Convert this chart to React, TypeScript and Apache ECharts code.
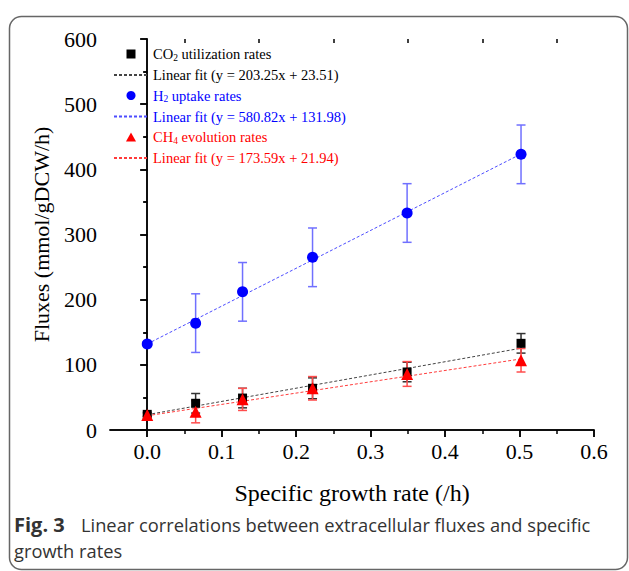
import React, { useEffect, useRef } from "react";
import * as echarts from "echarts";

const growthRates = [0, 0.065, 0.128, 0.222, 0.349, 0.502];
const co2Rates = [24, 41, 49, 64, 89, 133];
const co2Err = [3, 15, 15, 16, 15, 15];
const h2Rates = [132, 164, 212, 265, 333, 423];
const h2Err = [3, 45, 45, 45, 45, 45];
const ch4Rates = [23, 28, 47, 64, 86, 107];
const ch4Err = [2, 17, 17, 18, 19, 18];

const fitX = [0, 0.5];
const co2Fit = [23.5, 125.1];
const h2Fit = [132.0, 422.4];
const ch4Fit = [21.9, 108.7];

const xMajorTicks = [0, 0.1, 0.2, 0.3, 0.4, 0.5, 0.6];
const xMinorTicks = [0.05, 0.15, 0.25, 0.35, 0.45, 0.55];

const names = {
  co2: "CO2 utilization rates",
  co2Fit: "Linear fit (y = 203.25x + 23.51)",
  h2: "H2 uptake rates",
  h2Fit: "Linear fit (y = 580.82x + 131.98)",
  ch4: "CH4 evolution rates",
  ch4Fit: "Linear fit (y = 173.59x + 21.94)",
};

const SERIF = "Liberation Serif";
const SANS = "Open Sans";

const SQUARE_ICON = "path://M0,0H10V10H0Z";
const TRIANGLE_ICON = "path://M5,0L10,9L0,9Z";

function pts(xs: number[], ys: number[]) {
  return xs.map((x, i) => [x, ys[i]]);
}
function errPts(xs: number[], ys: number[], es: number[]) {
  return xs.map((x, i) => [x, ys[i], es[i]]);
}

function errorSeries(data: number[][], color: string) {
  return {
    type: "custom",
    xAxisIndex: 0,
    yAxisIndex: 0,
    z: 3,
    silent: true,
    data,
    renderItem: (params: any, api: any) => {
      const x = api.value(0);
      const y = api.value(1);
      const e = api.value(2);
      const top = api.coord([x, y + e]);
      const bot = api.coord([x, y - e]);
      const hw = 4.5;
      const style = { stroke: color, lineWidth: 1.5 };
      return {
        type: "group",
        children: [
          { type: "line", shape: { x1: top[0], y1: top[1], x2: bot[0], y2: bot[1] }, style },
          { type: "line", shape: { x1: top[0] - hw, y1: top[1], x2: top[0] + hw, y2: top[1] }, style },
          { type: "line", shape: { x1: bot[0] - hw, y1: bot[1], x2: bot[0] + hw, y2: bot[1] }, style },
        ],
      };
    },
  };
}

export default function App() {
  const ref = useRef<HTMLDivElement>(null);
  useEffect(() => {
    if (!ref.current) return;
    const chart = echarts.init(ref.current, null, { renderer: "svg" });
    const axisLine = { show: true, lineStyle: { color: "#000", width: 1.5 } };
    const xBase = { type: "value", min: -0.05, max: 0.6, gridIndex: 0, splitLine: { show: false } };
    const hiddenSymbol = { color: "rgba(0,0,0,0)", borderWidth: 0, opacity: 0 };
    const option: any = {
      animation: false,
      backgroundColor: "#fff",
      grid: { left: 110, right: 35, top: 39, bottom: 141 },
      legend: {
        orient: "vertical",
        left: 113,
        top: 46,
        padding: 0,
        itemWidth: 34,
        itemHeight: 9,
        itemGap: 4.5,
        textStyle: {
          fontFamily: SERIF,
          fontSize: 14.5,
          lineHeight: 16,
          rich: {
            sub: { fontSize: 9.5, padding: [7, 0, 0, 0], fontFamily: SERIF },
          },
        },
        formatter: (n: string) => n.replace(/^(CO|H|CH)(\d)/, "$1{sub|$2}"),
        data: [
          { name: names.co2, icon: SQUARE_ICON, itemStyle: { color: "#000" }, textStyle: { color: "#000" } },
          { name: names.co2Fit, itemStyle: hiddenSymbol, textStyle: { color: "#000" } },
          { name: names.h2, icon: "circle", textStyle: { color: "#0000ff" } },
          { name: names.h2Fit, itemStyle: hiddenSymbol, textStyle: { color: "#0000ff" } },
          { name: names.ch4, icon: TRIANGLE_ICON, itemStyle: { color: "#ff0000" }, textStyle: { color: "#ff0000" } },
          { name: names.ch4Fit, itemStyle: hiddenSymbol, textStyle: { color: "#ff0000" } },
        ],
      },
      xAxis: [
        {
          ...xBase,
          position: "bottom",
          name: "Specific growth rate (/h)",
          nameLocation: "middle",
          nameGap: 51,
          nameTextStyle: { fontFamily: SERIF, fontSize: 24, color: "#000" },
          axisLine,
          axisTick: { show: true, inside: false, length: 7, customValues: xMajorTicks, lineStyle: { color: "#000", width: 1.5 } },
          axisLabel: {
            show: true,
            customValues: xMajorTicks,
            margin: 10,
            fontFamily: SERIF,
            fontSize: 22,
            color: "#000",
            formatter: (v: number) => v.toFixed(1),
          },
        },
        {
          ...xBase,
          position: "top",
          axisLine,
          axisTick: { show: true, inside: true, length: 7, customValues: xMajorTicks, lineStyle: { color: "#000", width: 1.5 } },
          axisLabel: { show: false },
        },
        {
          ...xBase,
          position: "bottom",
          axisLine: { show: false },
          axisTick: { show: true, inside: false, length: 4, customValues: xMinorTicks, lineStyle: { color: "#000", width: 1.5 } },
          axisLabel: { show: false },
        },
        {
          ...xBase,
          position: "top",
          axisLine: { show: false },
          axisTick: { show: true, inside: true, length: 4, customValues: xMinorTicks, lineStyle: { color: "#000", width: 1.5 } },
          axisLabel: { show: false },
        },
      ],
      yAxis: [
        {
          type: "value",
          min: 0,
          max: 600,
          interval: 100,
          position: "left",
          name: "Fluxes (mmol/gDCW/h)",
          nameLocation: "middle",
          nameGap: 58,
          nameTextStyle: { fontFamily: SERIF, fontSize: 22, color: "#000" },
          axisLine,
          splitLine: { show: false },
          axisTick: { show: true, inside: false, length: 7, lineStyle: { color: "#000", width: 1.5 } },
          minorTick: { show: true, splitNumber: 2, length: 4, lineStyle: { color: "#000", width: 1.5 } },
          axisLabel: { margin: 13, fontFamily: SERIF, fontSize: 22, color: "#000" },
        },
        {
          type: "value",
          min: 0,
          max: 600,
          interval: 100,
          position: "right",
          axisLine,
          splitLine: { show: false },
          axisTick: { show: true, inside: true, length: 7, lineStyle: { color: "#000", width: 1.5 } },
          minorTick: { show: true, splitNumber: 2, length: 4, lineStyle: { color: "#000", width: 1.5 } },
          axisLabel: { show: false },
        },
      ],
      series: [
        {
          name: names.co2Fit,
          type: "line",
          data: pts(fitX, co2Fit),
          symbol: "none",
          z: 2,
          itemStyle: { color: "#444" },
          lineStyle: { color: "#444", width: 1, type: [3, 2] },
        },
        {
          name: names.h2Fit,
          type: "line",
          data: pts(fitX, h2Fit),
          symbol: "none",
          z: 2,
          itemStyle: { color: "#4d4dff" },
          lineStyle: { color: "#4d4dff", width: 1, type: [3, 2] },
        },
        {
          name: names.ch4Fit,
          type: "line",
          data: pts(fitX, ch4Fit),
          symbol: "none",
          z: 2,
          itemStyle: { color: "#ff3b3b" },
          lineStyle: { color: "#ff3b3b", width: 1, type: [3, 2] },
        },
        errorSeries(errPts(growthRates, co2Rates, co2Err), "#333"),
        errorSeries(errPts(growthRates, h2Rates, h2Err), "#7070ff"),
        errorSeries(errPts(growthRates, ch4Rates, ch4Err), "#ff4d4d"),
        {
          name: names.co2,
          type: "scatter",
          symbol: "rect",
          symbolSize: 9,
          z: 4,
          itemStyle: { color: "#000", opacity: 1 },
          data: pts(growthRates, co2Rates),
        },
        {
          name: names.h2,
          type: "scatter",
          symbol: "circle",
          symbolSize: 11,
          z: 4,
          itemStyle: { color: "#0000ff", opacity: 1 },
          data: pts(growthRates, h2Rates),
        },
        {
          name: names.ch4,
          type: "scatter",
          symbol: "triangle",
          symbolSize: 12,
          z: 4,
          itemStyle: { color: "#ff0000", opacity: 1 },
          data: pts(growthRates, ch4Rates),
        },
      ],
      graphic: [
        {
          type: "rect",
          silent: true,
          shape: { x: 9.5, y: 16.5, width: 618, height: 553, r: 12 },
          style: { fill: "none", stroke: "#666", lineWidth: 1.5 },
        },
        {
          type: "text",
          left: 14,
          top: 514,
          style: { text: "Fig. 3", fontFamily: SANS, fontWeight: "bold", fontSize: 20, fill: "#333" },
        },
        {
          type: "text",
          left: 81,
          top: 515,
          style: {
            text: "Linear correlations between extracellular fluxes and specific",
            fontFamily: SANS,
            fontSize: 18.3,
            fill: "#333",
          },
        },
        {
          type: "text",
          left: 14,
          top: 541,
          style: { text: "growth rates", fontFamily: SANS, fontSize: 18.3, fill: "#333" },
        },
      ],
    };
    chart.setOption(option);
    return () => chart.dispose();
  }, []);
  return (
    <div
      ref={ref}
      style={{ position: "absolute", left: 0, top: 0, width: 629, height: 571 }}
    />
  );
}
